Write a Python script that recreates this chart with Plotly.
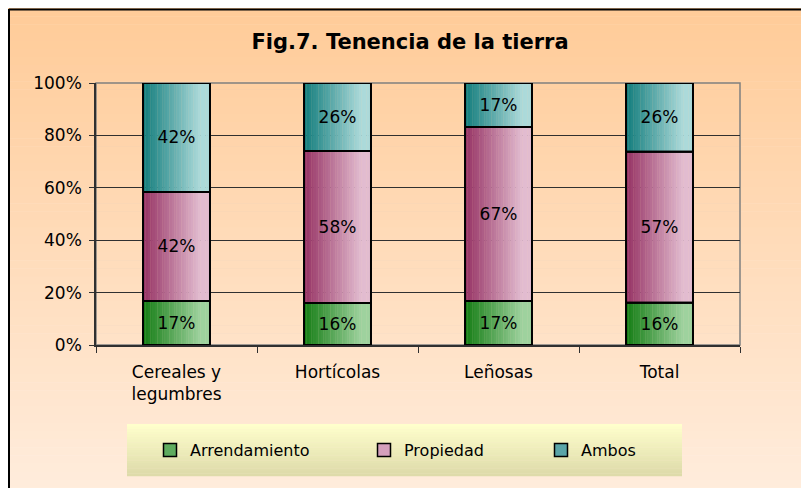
import plotly.graph_objects as go

categories = ["Cereales y<br>legumbres", "Hortícolas", "Leñosas", "Total"]
series_names = ["Arrendamiento", "Propiedad", "Ambos"]
arrendamiento = [17, 16, 17, 16]
propiedad = [42, 58, 67, 57]
ambos = [42, 26, 17, 26]
yticks = [0, 20, 40, 60, 80, 100]

series_values = [arrendamiento, propiedad, ambos]
dark = [(20, 125, 20), (150, 50, 100), (18, 125, 125)]
light = [(158, 210, 158), (226, 188, 208), (172, 218, 218)]
legend_col = ["rgb(95,172,95)", "rgb(212,160,188)", "rgb(90,165,168)"]

FONT = "DejaVu Sans"
W, H = 809, 488
S = 8  # page body offset
# plot area in screenshot coordinates
L, R, T, B = 96, 740, 83, 345
def px(x): return (x - L) / (R - L)
def py(y): return (B - y) / (B - T)

totals = [sum(v[i] for v in series_values) for i in range(len(categories))]
pct = [[v[i] / totals[i] * 100 for i in range(len(categories))] for v in series_values]
bases = []
run = [0.0] * len(categories)
for p in pct:
    bases.append(list(run))
    run = [run[i] + p[i] for i in range(len(categories))]

fig = go.Figure()
bw = 0.416
N = 28
for s in range(3):
    for k in range(N):
        t = (k + 0.5) / N
        f = min(1.0, t / 0.85)
        c = tuple(int(dark[s][j] + (light[s][j] - dark[s][j]) * f) for j in range(3))
        fig.add_trace(go.Bar(
            x=categories, y=pct[s], base=bases[s],
            width=bw / N * 1.15, offset=-bw / 2 + k * bw / N,
            marker=dict(color="rgb(%d,%d,%d)" % c, line=dict(width=0)),
            showlegend=False, hoverinfo="skip"))
for s in range(3):
    fig.add_trace(go.Bar(
        x=categories, y=pct[s], base=bases[s], width=bw, offset=-bw / 2,
        marker=dict(color="rgba(0,0,0,0)", line=dict(color="black", width=2)),
        text=["%d%%" % v for v in series_values[s]],
        textposition="inside", insidetextanchor="middle", textangle=0,
        constraintext="none",
        textfont=dict(family=FONT, size=17, color="black"),
        showlegend=False))
legend_ids = ["legend", "legend2", "legend3"]
for s in range(3):
    fig.add_trace(go.Scatter(
        x=[None], y=[None], mode="markers", name=series_names[s], legend=legend_ids[s],
        marker=dict(symbol="square", size=13, color=legend_col[s],
                    line=dict(color="black", width=1.5))))

shapes = []
n = 60
y0p, y1p = 8, 496
for i in range(n):
    a = y0p + (y1p - y0p) * i / n
    b = y0p + (y1p - y0p) * (i + 1) / n + 0.5
    t = i / (n - 1)
    c = (255, int(204 + (237 - 204) * t), int(153 + (221 - 153) * t))
    shapes.append(dict(type="rect", xref="paper", yref="paper",
                       x0=px(0), x1=px(830), y0=py(a), y1=py(b),
                       fillcolor="rgb(%d,%d,%d)" % c, line=dict(width=0), layer="below"))
# outer border (left/top visible)
shapes.append(dict(type="line", xref="paper", yref="paper", x0=px(9), x1=px(9),
                   y0=py(9), y1=py(520), line=dict(color="black", width=2), layer="below"))
shapes.append(dict(type="line", xref="paper", yref="paper", x0=px(9), x1=px(830),
                   y0=py(9.5), y1=py(9.5), line=dict(color="black", width=2), layer="below"))
# legend box gradient
lx0, lx1, ly0, ly1 = 127, 682, 424, 476
m = 20
for i in range(m):
    a = ly0 + (ly1 - ly0) * i / m
    b = ly0 + (ly1 - ly0) * (i + 1) / m + 0.3
    t = i / (m - 1)
    c = (int(255 + (222 - 255) * t), int(255 + (219 - 255) * t), int(204 + (170 - 204) * t))
    shapes.append(dict(type="rect", xref="paper", yref="paper",
                       x0=px(lx0), x1=px(lx1), y0=py(a), y1=py(b),
                       fillcolor="rgb(%d,%d,%d)" % c, line=dict(width=0), layer="below"))
shapes.append(dict(type="rect", xref="paper", yref="paper", x0=0, x1=1, y0=0, y1=1,
                   line=dict(color="#808080", width=1.5), fillcolor="rgba(0,0,0,0)",
                   layer="below"))

leg_common = dict(orientation="h", xanchor="left", yanchor="middle",
                  bgcolor="rgba(0,0,0,0)", itemwidth=30,
                  font=dict(family=FONT, size=16, color="black"))
fig.update_layout(
    width=W, height=H,
    margin=dict(l=L - S, r=W - (R - S), t=T - S, b=H - (B - S), pad=0),
    paper_bgcolor="white", plot_bgcolor="#c0c0c0",
    barmode="overlay",
    font=dict(family=FONT, size=17, color="black"),
    title=dict(text="<b>Fig.7. Tenencia de la tierra</b>", x=(410 - S) / W, xanchor="center",
               y=1 - (42 - S) / H, yanchor="middle",
               font=dict(family=FONT, size=21, color="black")),
    shapes=shapes,
    legend=dict(x=px(150), y=py(450), **leg_common),
    legend2=dict(x=px(364), y=py(450), **leg_common),
    legend3=dict(x=px(541), y=py(450), **leg_common),
    showlegend=True,
)
fig.update_yaxes(range=[0, 100], tickvals=yticks, ticktext=["%d%%" % v for v in yticks],
                 showgrid=True, gridcolor="#303030", gridwidth=1,
                 ticks="outside", ticklen=5, tickcolor="#303030",
                 showline=True, linecolor="#303030", linewidth=1.5,
                 zeroline=False, tickfont=dict(family=FONT, size=17),
                 ticklabelstandoff=4)
fig.update_xaxes(type="category", tickson="boundaries", ticks="outside", ticklen=6,
                 tickcolor="#303030", showline=True, linecolor="#303030", linewidth=1.5,
                 showgrid=False, tickfont=dict(family=FONT, size=17), range=[-0.5, 3.5],
                 ticklabelstandoff=11)

fig.write_html("out.html")
